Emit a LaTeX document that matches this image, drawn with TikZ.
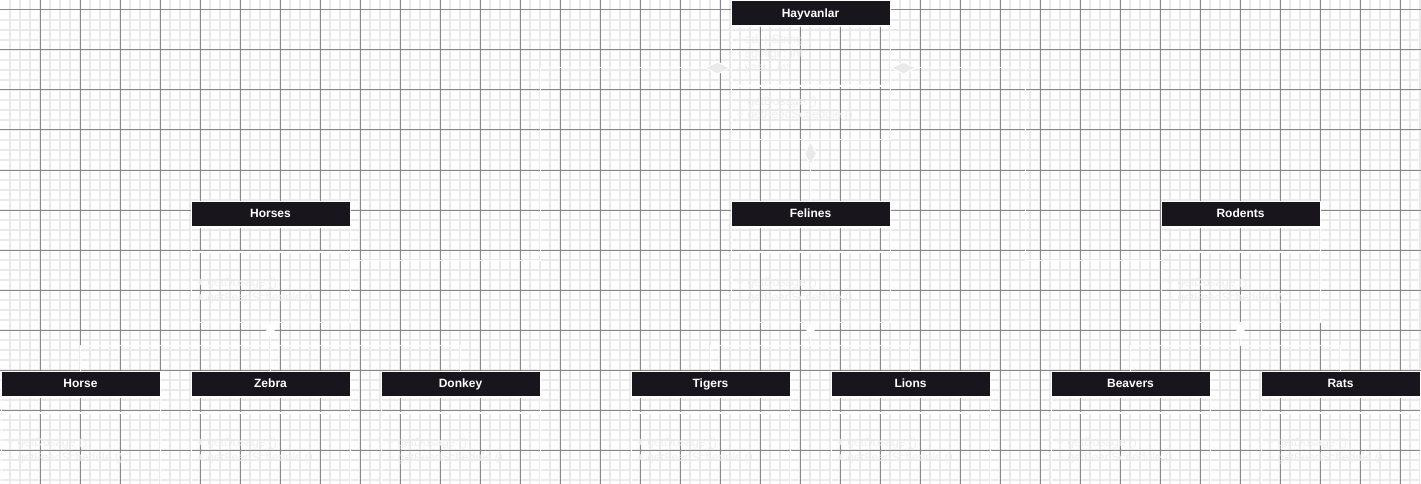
\documentclass[tikz,border=0pt]{standalone}
\usepackage{fontspec}
\setmainfont{Liberation Sans}
\usetikzlibrary{arrows.meta}
\definecolor{cHead}{HTML}{18151C}
\definecolor{cMinor}{HTML}{EAEAEA}
\definecolor{cMajor}{HTML}{888888}
\definecolor{cFaint}{HTML}{EDEDED}
\definecolor{cTip}{HTML}{EAEAEA}
\tikzset{
	classhead/.style={draw=white, line width=1pt, fill=cHead, text=white, font=\bfseries\fontsize{12}{14}\selectfont, minimum width=159pt, minimum height=25pt, inner sep=0pt, text height=9.6pt, text depth=1pt},
	classpart/.style={draw=white, line width=1pt, minimum width=159pt, inner sep=0pt},
	member/.style={text=cFaint, font=\fontsize{12}{15}\selectfont, anchor=west, align=left, inner sep=0pt},
	agg/.style={draw=white, line width=1pt, -{Diamond[length=26pt,width=13pt,fill=cTip]}},
	inh/.style={draw=white, line width=1pt, -{Triangle[length=15pt,width=14pt,fill=white]}}
}

\begin{document}
\begin{tikzpicture}[x=1pt, y=-1pt]
			\useasboundingbox (0,0) rectangle (1421,484);
			\fill[white] (0,0) rectangle (1421,484);
			% grid
			\foreach \x in {10,20,...,1420} \draw[cMinor, line width=1.6pt] (\x,0) -- (\x,484);
			\foreach \y in {20,30,...,480} \draw[cMinor, line width=1.6pt] (0,\y) -- (1421,\y);
			\foreach \x in {40,80,...,1400} \draw[cMajor, line width=1pt] (\x,0) -- (\x,484);
			\foreach \y in {10,50,...,450} \draw[cMajor, line width=1pt] (0,\y) -- (1421,\y);
			% base class
			\node[classhead] (hayvanlar) at (810.5,13.5) {Hayvanlar};
			\node[classpart, minimum height=59pt, anchor=north] (hayvanlar-attrs) at (hayvanlar.south) {};
			\node[classpart, minimum height=53pt, anchor=north] (hayvanlar-ops) at (hayvanlar-attrs.south) {};
			\node[member, font=\fontsize{12}{14}\selectfont] (hayvanlar-attrs-text) at (737,54) {- adi : String\\- agirligi : int\\- yasi : int};
			\node[member, font=\fontsize{12}{13}\selectfont] (hayvanlar-ops-text) at (737,109) {+ getDosage ()\\+ getFeedSchedule ()};
			% groups
			\foreach \n/\cname/\cx in {horses/Horses/270.5, felines/Felines/810.5, rodents/Rodents/1240.5} {
				\node[classhead] (\n) at (\cx,213.5) {\cname};
				\node[classpart, minimum height=24pt, anchor=north] (\n-attrs) at (\n.south) {};
				\node[classpart, minimum height=70pt, anchor=north] (\n-ops) at (\n-attrs.south) {};
				\node[member] (\n-text) at (\cx-73.5,290.5) {+ getDosage ()\\+ getFeedSchedule ()};
			}
			% animals
			\foreach \n/\cname/\cx in {horse/Horse/80.5, zebra/Zebra/270.5, donkey/Donkey/460.5, tigers/Tigers/710.5, lions/Lions/910.5, beavers/Beavers/1130.5, rats/Rats/1340.5} {
				\node[classhead] (\n) at (\cx,383.5) {\cname};
				\node[classpart, minimum height=15pt, anchor=north] (\n-attrs) at (\n.south) {};
				\node[classpart, minimum height=78pt, anchor=north] (\n-ops) at (\n-attrs.south) {};
				\node[member] (\n-text) at (\cx-73.5,450.5) {+ getDosage ()\\+ getFeedSchedule ()};
			}
			% aggregation
			\coordinate (aggrow) at (0,68);
			\coordinate (bendL) at (540,260);
			\coordinate (bendR) at (1025,260);
			\draw[agg] (horses-ops.east |- bendL) -- (bendL) |- (hayvanlar-attrs.west |- aggrow);
			\draw[agg] (rodents-ops.west |- bendR) -- (bendR) |- (hayvanlar-attrs.east |- aggrow);
			\draw[agg] (felines.north) -- (hayvanlar-ops.south);
			% inheritance
			\coordinate (horsesJoin) at (270.5,345);
			\coordinate (felinesJoin) at (810.5,345);
			\coordinate (rodentsJoin) at (1240.5,345);
			\foreach \c in {horse,zebra,donkey} \draw[inh] (\c.north) |- (horsesJoin) -- (horses-ops.south);
			\foreach \c in {tigers,lions} \draw[inh] (\c.north) |- (felinesJoin) -- (felines-ops.south);
			\foreach \c in {beavers,rats} \draw[inh] (\c.north) |- (rodentsJoin) -- (rodents-ops.south);
		\end{tikzpicture}
\end{document}
